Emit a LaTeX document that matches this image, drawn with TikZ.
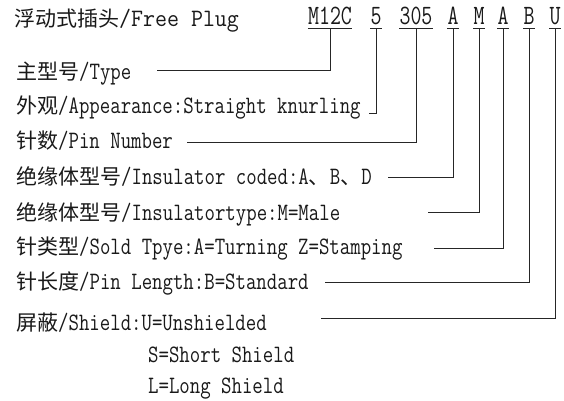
\documentclass[tikz,border=0pt]{standalone}
\usepackage{fontspec}
\newfontfamily\cjk{Noto Sans CJK SC}
\newfontfamily\lat{Latin Modern Mono}[FakeStretch=0.81]
\newfontfamily\latt{Latin Modern Mono}[FakeStretch=0.93]
\newfontfamily\latc{Latin Modern Mono}[FakeStretch=0.76]
\newcommand\cj[1]{{\cjk\fontsize{21}{21}\selectfont#1}}
\begin{document}
\begin{tikzpicture}[x=1pt,y=-1pt,
  txt/.style={anchor=base west,inner sep=0pt,font=\lat\fontsize{25}{25}\selectfont,text=black!90},
  ttl/.style={anchor=base west,inner sep=0pt,font=\latt\fontsize{25}{25}\selectfont,text=black!90},
  code/.style={anchor=base,inner sep=0pt,font=\latc\fontsize{28}{28}\selectfont,text=black!90},
  conn/.style={line width=0.9pt,draw=black!85}]
\useasboundingbox (0,0) rectangle (564,400);
\fill[white] (0,0) rectangle (564,400);
% title and code
\node[ttl] (title) at (14,26) {\cj{浮动式插头}/Free Plug};
\node[code] (c1) at (330,24) {M12C};
\node[code] (c2) at (376,24) {5};
\node[code] (c3) at (416,24) {305};
\node[code] (c4) at (453,24) {A};
\node[code] (c5) at (479,24) {M};
\node[code] (c6) at (503,24) {A};
\node[code] (c7) at (529,24) {B};
\node[code] (c8) at (555,24) {U};
\coordinate (ul) at (0,28);
\foreach \n in {c1,c2,c3,c4,c5,c6,c7,c8}
  \draw[conn] (\n.west |- ul) -- (\n.east |- ul);
% rows
\node[txt] (type) at (16,79) {\cj{主型号}/Type};
\node[txt] (appear) at (16,113) {\cj{外观}/Appearance:Straight knurling};
\node[txt] (pin) at (16,148) {\cj{针数}/Pin Number};
\node[txt] (insc) at (16,184) {\cj{绝缘体型号}/Insulator coded:A\cj{、}B\cj{、}D};
\node[txt] (inst) at (16,220) {\cj{绝缘体型号}/Insulatortype:M=Male};
\node[txt] (sold) at (16,254) {\cj{针类型}/Sold Tpye:A=Turning Z=Stamping};
\node[txt] (pinl) at (16,289) {\cj{针长度}/Pin Length:B=Standard};
\node[txt] (sh) at (16,330) {\cj{屏蔽}/Shield:U=Unshielded};
\node[txt] (s2) at (148,362) {S=Short Shield};
\node[txt] (s3) at (148,393) {L=Long Shield};
% connector ends
\coordinate (typeE) at (157,70);
\coordinate (appE) at (369,113);
\coordinate (pinE) at (187,142);
\coordinate (inscE) at (388,177);
\coordinate (instE) at (428,212);
\coordinate (soldE) at (434,248);
\coordinate (pinlE) at (325,282);
\coordinate (shE) at (321,318);
% connectors
\draw[conn] (c1.base |- ul) |- (typeE);
\draw[conn] (c2.base |- ul) |- (appE);
\draw[conn] (c3.base |- ul) |- (pinE);
\draw[conn] (c4.base |- ul) |- (inscE);
\draw[conn] (c5.base |- ul) |- (instE);
\draw[conn] (c6.base |- ul) |- (soldE);
\draw[conn] (c7.base |- ul) |- (pinlE);
\draw[conn] (c8.base |- ul) |- (shE);
\end{tikzpicture}
\end{document}
